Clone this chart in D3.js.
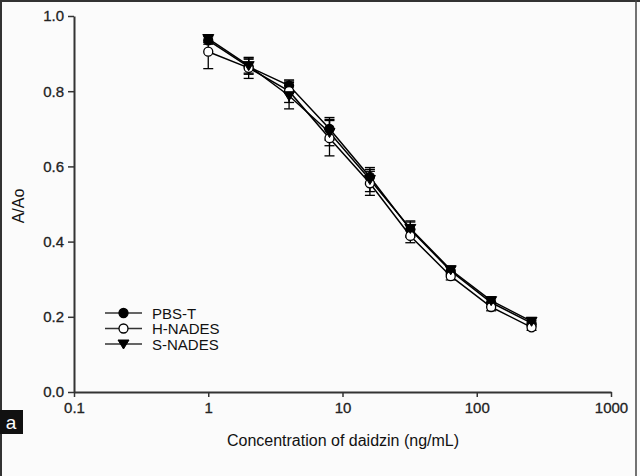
<!DOCTYPE html>
<html><head><meta charset="utf-8">
<script src="https://cdn.jsdelivr.net/npm/d3@7"></script>
<style>body{margin:0;background:#fff}svg{display:block}</style>
</head><body>
<script>
const conc = [1, 2, 4, 8, 16, 32, 64, 128, 256];
const pbsT = [0.935, 0.865, 0.815, 0.700, 0.572, 0.432, 0.322, 0.238, 0.183];
const pbsTErr = [0.010, 0.020, 0.012, 0.030, 0.020, 0.020, 0.010, 0.010, 0.008];
const hNades = [0.905, 0.862, 0.800, 0.675, 0.555, 0.415, 0.308, 0.226, 0.172];
const hNadesErr = [0.045, 0.028, 0.030, 0.047, 0.032, 0.018, 0.010, 0.010, 0.008];
const sNades = [0.940, 0.868, 0.788, 0.690, 0.565, 0.435, 0.325, 0.243, 0.188];
const sNadesErr = [0.010, 0.020, 0.035, 0.035, 0.032, 0.020, 0.010, 0.010, 0.010];
const xTicks = [0.1, 1, 10, 100, 1000];
const yTicks = [0.0, 0.2, 0.4, 0.6, 0.8, 1.0];
const seriesNames = ["PBS-T", "H-NADES", "S-NADES"];

const W = 640, H = 476;
const svg = d3.select("body").append("svg").attr("width", W).attr("height", H);
svg.append("rect").attr("width", W).attr("height", H).attr("fill", "#fbfbfb");
// frame
svg.append("line").attr("x1",0).attr("x2",W).attr("y1",1).attr("y2",1).attr("stroke","#333").attr("stroke-width",2);
svg.append("line").attr("x1",1).attr("x2",1).attr("y1",0).attr("y2",H).attr("stroke","#333").attr("stroke-width",2);
svg.append("line").attr("x1",636).attr("x2",636).attr("y1",0).attr("y2",H).attr("stroke","#444").attr("stroke-width",1.5);

const x = d3.scaleLog().domain([0.1, 1000]).range([74, 611]);
const y = d3.scaleLinear().domain([0, 1]).range([392, 16]);
const font = "'Liberation Sans', Arial, sans-serif";
const axisCol = "#333";

const gx = svg.append("g").attr("transform", "translate(0,392)")
  .call(d3.axisBottom(x).tickValues(xTicks).tickFormat(d => String(d)).tickSize(5).tickSizeOuter(0));
const gy = svg.append("g").attr("transform", "translate(74,0)")
  .call(d3.axisLeft(y).tickValues(yTicks).tickFormat(d3.format(".1f")).tickSize(6).tickSizeOuter(0));
[gx, gy].forEach(g => {
  g.select(".domain").attr("stroke", axisCol).attr("stroke-width", 2);
  g.selectAll(".tick line").attr("stroke", axisCol).attr("stroke-width", 1.5);
  g.selectAll("text").attr("font-family", font).attr("font-size", 15).attr("fill", "#222")
    .attr("stroke", "#222").attr("stroke-width", 0.3);
});
gx.selectAll("text").attr("dy", "0.85em");
gy.selectAll("text").attr("x", -10);

svg.append("text").attr("x", 343).attr("y", 446).attr("text-anchor", "middle")
  .attr("font-family", font).attr("font-size", 16).attr("fill", "#111")
  .text("Concentration of daidzin (ng/mL)");
svg.append("text").attr("transform", "translate(24,206) rotate(-90)").attr("text-anchor", "middle")
  .attr("font-family", font).attr("font-size", 16).attr("fill", "#111").text("A/Ao");

// panel label
svg.append("rect").attr("x", 0).attr("y", 410).attr("width", 23).attr("height", 24).attr("fill", "#111");
svg.append("text").attr("x", 11).attr("y", 429).attr("text-anchor", "middle")
  .attr("font-family", font).attr("font-size", 19).attr("fill", "#fff").text("a");

const series = [
  {name: seriesNames[0], vals: pbsT, err: pbsTErr, shape: "circle", fill: "#000"},
  {name: seriesNames[1], vals: hNades, err: hNadesErr, shape: "circle", fill: "#fff"},
  {name: seriesNames[2], vals: sNades, err: sNadesErr, shape: "triangle", fill: "#000"}
];
const line = d3.line().x((d, i) => x(conc[i])).y(d => y(d));

function marker(g, s, cx, cy) {
  if (s.shape === "circle") {
    g.append("circle").attr("cx", cx).attr("cy", cy).attr("r", 4.5)
      .attr("fill", s.fill).attr("stroke", "#000").attr("stroke-width", 1.3);
  } else {
    g.append("path").attr("d", `M${cx-5.5},${cy-4} L${cx+5.5},${cy-4} L${cx},${cy+5} Z`)
      .attr("fill", "#000").attr("stroke", "#000").attr("stroke-width", 1);
  }
}

series.forEach(s => {
  const g = svg.append("g");
  s.vals.forEach((v, i) => {
    const cx = x(conc[i]), e = s.err[i];
    g.append("line").attr("x1", cx).attr("x2", cx).attr("y1", y(v - e)).attr("y2", y(v + e))
      .attr("stroke", "#000").attr("stroke-width", 1.3);
    [v - e, v + e].forEach(t => g.append("line").attr("x1", cx - 5).attr("x2", cx + 5)
      .attr("y1", y(t)).attr("y2", y(t)).attr("stroke", "#000").attr("stroke-width", 1.3));
  });
  g.append("path").datum(s.vals).attr("d", line).attr("fill", "none")
    .attr("stroke", "#000").attr("stroke-width", 1.5);
});
series.forEach(s => {
  const g = svg.append("g");
  s.vals.forEach((v, i) => marker(g, s, x(conc[i]), y(v)));
});

// legend
series.forEach((s, i) => {
  const ly = 313 + i * 15.5;
  const g = svg.append("g");
  g.append("line").attr("x1", 105).attr("x2", 142).attr("y1", ly).attr("y2", ly)
    .attr("stroke", "#333").attr("stroke-width", 1.5);
  marker(g, s, 123.5, ly);
  g.append("text").attr("x", 152).attr("y", ly + 5.5).attr("font-family", font)
    .attr("font-size", 15).attr("fill", "#111").text(s.name);
});
</script>
</body></html>
